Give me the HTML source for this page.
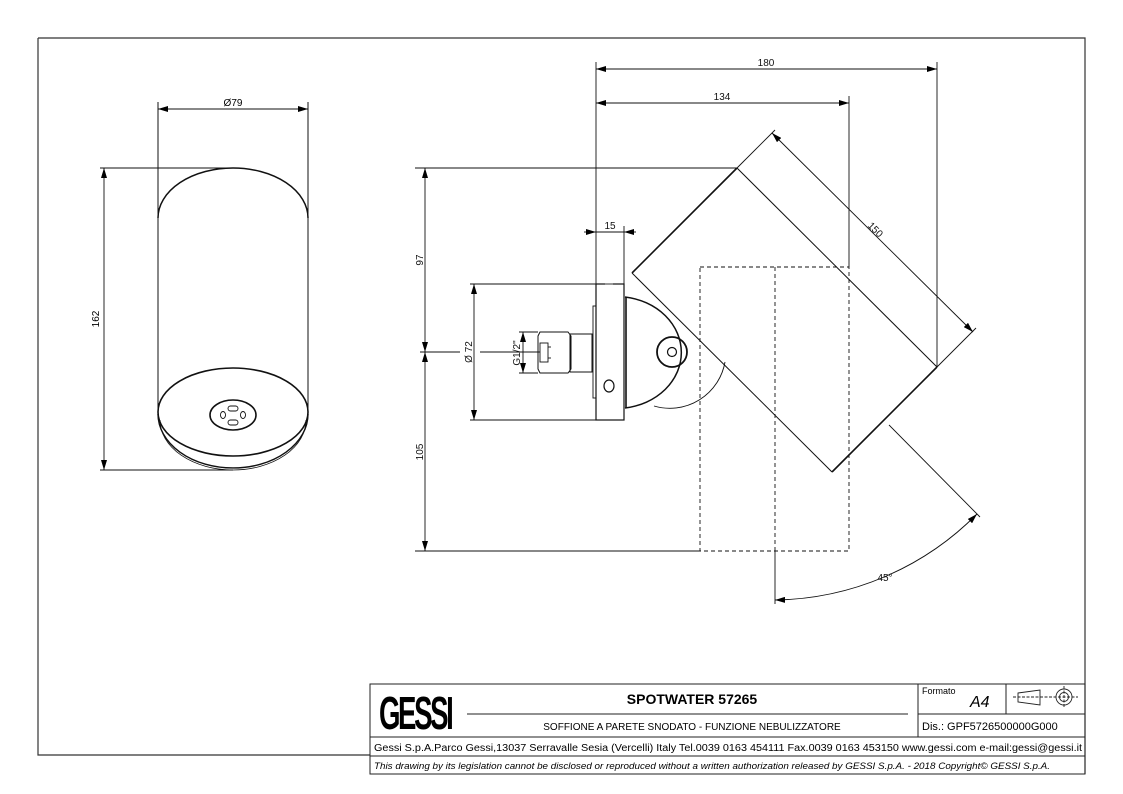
<!DOCTYPE html>
<html><head><meta charset="utf-8"><style>
html,body{margin:0;padding:0;background:#fff;}
svg{display:block;font-family:"Liberation Sans",sans-serif;}
</style></head><body>
<svg width="1123" height="794" viewBox="0 0 1123 794" xmlns="http://www.w3.org/2000/svg">
<defs>
<marker id="a" viewBox="0 0 10 6" refX="10" refY="3" markerWidth="10" markerHeight="6" orient="auto-start-reverse" markerUnits="userSpaceOnUse"><path d="M0,0 L10,3 L0,6 z" fill="#000"/></marker>
</defs>
<rect width="1123" height="794" fill="#fff"/>
<!-- frame -->
<path d="M38,38 H1085 V774 M38,38 V755 H370" fill="none" stroke="#333" stroke-width="1.2"/>
<!-- title block -->
<g fill="none" stroke="#222" stroke-width="1">
<rect x="370" y="684" width="715" height="90"/>
<line x1="370" y1="737" x2="1085" y2="737"/>
<line x1="370" y1="756" x2="1085" y2="756"/>
<line x1="918" y1="684" x2="918" y2="737"/>
<line x1="1006" y1="684" x2="1006" y2="714"/>
<line x1="918" y1="714" x2="1085" y2="714"/>
<line x1="467" y1="714" x2="908" y2="714"/>
</g>
<text font-size="46" font-weight="bold" letter-spacing="-4" transform="translate(379,729) scale(0.6,1)">GESSI</text>
<text x="692" y="704" font-size="14" font-weight="bold" text-anchor="middle">SPOTWATER 57265</text>
<text x="692" y="730" font-size="10" text-anchor="middle">SOFFIONE A PARETE SNODATO - FUNZIONE NEBULIZZATORE</text>
<text x="922" y="694" font-size="9">Formato</text>
<text x="970" y="707" font-size="16" font-style="italic">A4</text>
<text x="922" y="730" font-size="11">Dis.: GPF5726500000G000</text>
<text x="374" y="751" font-size="10" textLength="708" lengthAdjust="spacingAndGlyphs">Gessi S.p.A.Parco Gessi,13037 Serravalle Sesia (Vercelli) Italy Tel.0039 0163 454111 Fax.0039 0163 453150 www.gessi.com e-mail:gessi@gessi.it</text>
<text x="374" y="769" font-size="9" font-style="italic" textLength="676" lengthAdjust="spacingAndGlyphs">This drawing by its legislation cannot be disclosed or reproduced without a written authorization released by GESSI S.p.A. - 2018 Copyright© GESSI S.p.A.</text>
<g fill="none" stroke="#222" stroke-width="0.9">
<path d="M1018,693 L1040,690 V705 L1018,702 Z"/>
<circle cx="1064" cy="697" r="8"/><circle cx="1064" cy="697" r="4.5"/>
<line x1="1013" y1="697" x2="1078" y2="697" stroke-dasharray="3,1.5"/>
<line x1="1064" y1="686" x2="1064" y2="708" stroke-dasharray="3,1.5"/>
</g>

<!-- LEFT VIEW -->
<g fill="none" stroke="#111">
<path d="M158,218 A75,50 0 0 1 308,218" stroke-width="1.5"/>
<line x1="158" y1="102" x2="158" y2="412" stroke-width="1"/>
<line x1="308" y1="102" x2="308" y2="412" stroke-width="1"/>
<ellipse cx="233" cy="412" rx="75" ry="44" stroke-width="1.6"/>
<path d="M158,414 A75,54 0 0 0 308,414" stroke-width="1.4"/>
<path d="M160,420 A73,50 0 0 0 306,420" stroke-width="0.8"/>
<ellipse cx="233" cy="415" rx="23" ry="15" stroke-width="1.6"/>
<rect x="228" y="406" width="10" height="5" rx="2.5" stroke-width="0.9"/>
<rect x="228" y="420" width="10" height="5" rx="2.5" stroke-width="0.9"/>
<ellipse cx="223" cy="415" rx="2.5" ry="3.5" stroke-width="0.9"/>
<ellipse cx="243" cy="415" rx="2.5" ry="3.5" stroke-width="0.9"/>
<g stroke-width="0.9">
<line x1="158" y1="109" x2="308" y2="109" marker-start="url(#a)" marker-end="url(#a)"/>
<line x1="100" y1="168" x2="233" y2="168"/>
<line x1="100" y1="470" x2="233" y2="470"/>
<line x1="104" y1="168" x2="104" y2="470" marker-start="url(#a)" marker-end="url(#a)"/>
</g>
</g>
<text x="233" y="106" font-size="10" text-anchor="middle">Ø79</text>
<text x="0" y="0" font-size="10" text-anchor="middle" transform="translate(99,319) rotate(-90)">162</text>

<!-- RIGHT VIEW -->
<g fill="none" stroke="#111" stroke-width="0.9">
<line x1="596" y1="62" x2="596" y2="420"/>
<line x1="937" y1="62" x2="937" y2="367"/>
<line x1="849" y1="96" x2="849" y2="267"/>
<line x1="596" y1="69" x2="937" y2="69" marker-start="url(#a)" marker-end="url(#a)"/>
<line x1="596" y1="103" x2="849" y2="103" marker-start="url(#a)" marker-end="url(#a)"/>
<line x1="624" y1="226" x2="624" y2="284"/>
<line x1="584" y1="232" x2="596" y2="232" marker-end="url(#a)"/>
<line x1="596" y1="232" x2="624" y2="232"/>
<line x1="636" y1="232" x2="624" y2="232" marker-end="url(#a)"/>
<line x1="415" y1="168" x2="737" y2="168"/>
<line x1="415" y1="551" x2="700" y2="551"/>
<line x1="425" y1="168" x2="425" y2="352" marker-start="url(#a)" marker-end="url(#a)"/>
<line x1="425" y1="352" x2="425" y2="551" marker-start="url(#a)" marker-end="url(#a)"/>
<line x1="420" y1="352" x2="460" y2="352"/>
<line x1="480" y1="352" x2="540" y2="352"/>
<line x1="470" y1="284" x2="596" y2="284"/>
<line x1="470" y1="420" x2="596" y2="420"/>
<line x1="474" y1="284" x2="474" y2="420" marker-start="url(#a)" marker-end="url(#a)"/>
<line x1="523" y1="332" x2="523" y2="373" marker-start="url(#a)" marker-end="url(#a)"/>
<line x1="519" y1="332" x2="538" y2="332"/>
<line x1="519" y1="373" x2="538" y2="373"/>
<line x1="737" y1="168" x2="775" y2="130"/>
<line x1="937" y1="367" x2="976" y2="328"/>
<line x1="772" y1="133" x2="973" y2="332" marker-start="url(#a)" marker-end="url(#a)"/>
<line x1="889" y1="425" x2="980" y2="517"/>
<line x1="775" y1="551" x2="775" y2="604"/>
<path d="M977,514 A290,290 0 0 1 775,600" marker-start="url(#a)" marker-end="url(#a)"/>
<rect x="700" y="267" width="149" height="284" stroke-dasharray="4,3"/>
<line x1="775" y1="267" x2="775" y2="551" stroke-dasharray="4,3"/>
<rect x="596" y="284" width="28" height="136" stroke-width="1.2"/>
<rect x="593" y="306" width="3" height="92" stroke-width="0.9"/>
<ellipse cx="609" cy="386" rx="5" ry="6" stroke-width="1.2"/>
<line x1="605" y1="284" x2="613" y2="284" stroke-width="2" stroke="#999"/>
<path d="M570,334 H592 V372 H570 Z" stroke-width="1"/>
<path d="M540,332 H568 L571,336 V369 L568,373 H540 L538,369 V336 Z" stroke-width="1"/>
<rect x="540" y="343" width="8" height="19" stroke-width="0.9"/>
<line x1="548" y1="347" x2="551" y2="347"/><line x1="548" y1="358" x2="551" y2="358"/>
<path d="M625,297 A65,56 0 0 1 625,408" stroke-width="1.5"/>
<line x1="626" y1="297" x2="626" y2="408" stroke-width="1.6"/>
<circle cx="672" cy="352" r="15" stroke-width="1.8"/>
<circle cx="672" cy="352" r="4.5" stroke-width="1.2"/>
<path d="M725,362 A56,56 0 0 1 654,406" stroke-width="0.9"/>
<line x1="737" y1="168" x2="632" y2="273" stroke-width="1.6"/>
<line x1="832" y1="472" x2="937" y2="367" stroke-width="1.6"/>
<line x1="737" y1="168" x2="937" y2="367" stroke-width="1"/>
<line x1="632" y1="273" x2="832" y2="472" stroke-width="1"/>
</g>
<g font-size="10" fill="#111">
<text x="766" y="66" text-anchor="middle">180</text>
<text x="722" y="100" text-anchor="middle">134</text>
<text x="610" y="229" text-anchor="middle">15</text>
<text transform="translate(423,260) rotate(-90)" text-anchor="middle">97</text>
<text transform="translate(423,452) rotate(-90)" text-anchor="middle">105</text>
<text transform="translate(472,352) rotate(-90)" text-anchor="middle">Ø 72</text>
<text transform="translate(520,353) rotate(-90)" text-anchor="middle">G1/2"</text>
<text transform="translate(873,232) rotate(45)" text-anchor="middle">150</text>
<text x="885" y="581" text-anchor="middle">45°</text>
</g>
</svg>
</body></html>
